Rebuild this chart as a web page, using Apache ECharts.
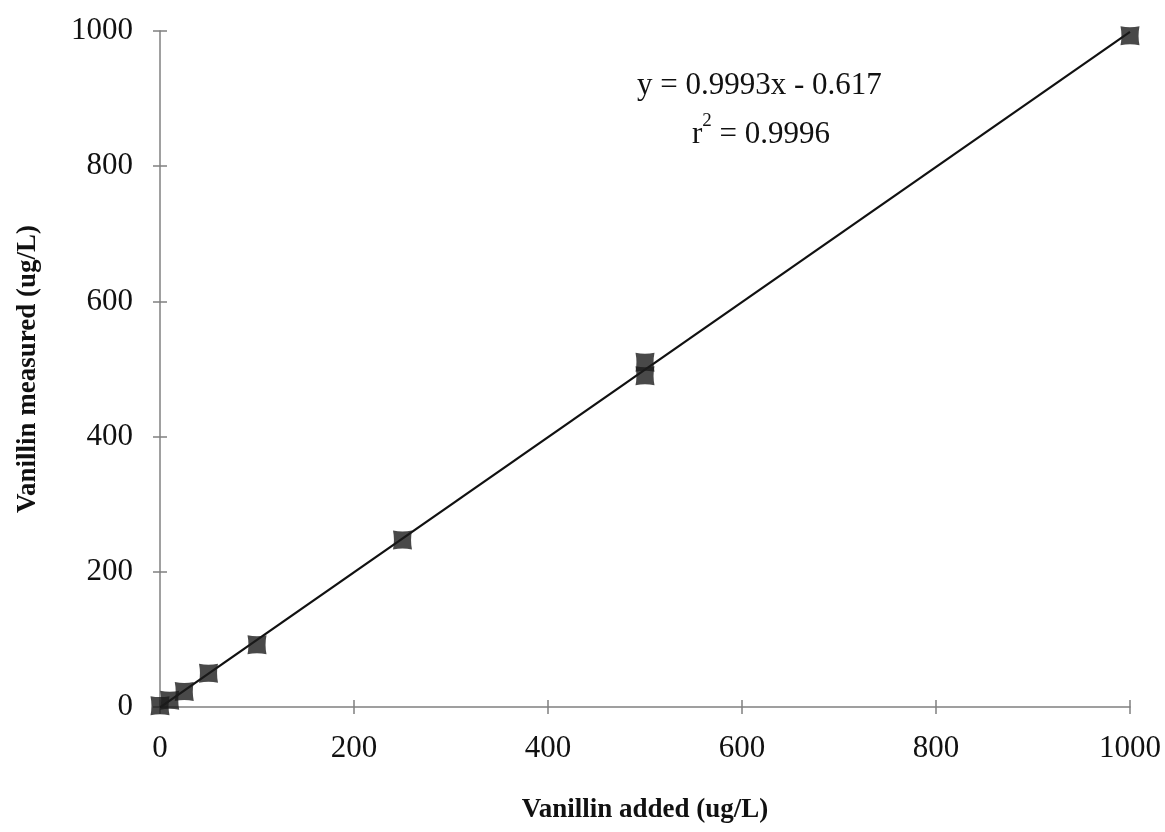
<!DOCTYPE html>
<html>
<head>
<meta charset="utf-8" />
<title>Vanillin recovery</title>
<script src="https://cdn.jsdelivr.net/npm/echarts@6/dist/echarts.min.js"></script>
<style>
  html, body { margin: 0; padding: 0; background: #fff; }
  #chart { width: 1165px; height: 832px; }
</style>
</head>
<body>
<div id="chart"></div>
<script>
// measured points
const addedVals = [0, 10, 25, 50, 100, 250, 500, 500, 1000];
const measuredVals = [2, 10, 23, 50, 92, 247, 490, 510, 993];
// fitted line end points (y = 0.9993x - 0.617)
const fitX = [0, 1000];
const fitY = [-0.6, 998.7];
const xTicks = [0, 200, 400, 600, 800, 1000];
const yTicks = [0, 200, 400, 600, 800, 1000];

const chart = echarts.init(document.getElementById('chart'));
const serif = '"Liberation Serif", "DejaVu Serif", serif';
const marker = 'path://M0,0 Q5,1 10,0 Q9,5 10,10 Q5,9 0,10 Q1,5 0,0 Z';

const points = addedVals.map(function (x, i) { return [x, measuredVals[i]]; });
const fitLine = fitX.map(function (x, i) { return [x, fitY[i]]; });

const axisLine = { show: true, lineStyle: { color: '#808080', width: 1.5 } };
const tickLine = { show: true, length: 7, lineStyle: { color: '#808080', width: 1.5 } };

chart.setOption({
  animation: false,
  grid: { left: 160, right: 35, top: 31, bottom: 125 },
  xAxis: [{
    type: 'value',
    min: 0, max: 1000, interval: 200,
    position: 'bottom',
    name: 'Vanillin added (ug/L)',
    nameLocation: 'middle',
    nameGap: 90,
    nameTextStyle: { fontFamily: serif, fontSize: 27, fontWeight: 'bold', color: '#111' },
    axisLine: axisLine,
    axisTick: tickLine,
    splitLine: { show: false },
    axisLabel: {
      fontFamily: serif, fontSize: 31, color: '#111', margin: 26,
      formatter: function (v) { return xTicks.indexOf(v) >= 0 ? String(v) : ''; }
    }
  }, {
    type: 'value',
    min: 0, max: 1000, interval: 200,
    position: 'bottom',
    axisLine: { show: false },
    axisTick: { show: true, inside: true, length: 7, lineStyle: { color: '#808080', width: 1.5 } },
    axisLabel: { show: false },
    splitLine: { show: false }
  }],
  yAxis: [{
    type: 'value',
    min: 0, max: 1000, interval: 200,
    name: 'Vanillin measured (ug/L)',
    nameLocation: 'middle',
    nameGap: 118,
    nameTextStyle: { fontFamily: serif, fontSize: 27, fontWeight: 'bold', color: '#111' },
    axisLine: axisLine,
    axisTick: tickLine,
    splitLine: { show: false },
    axisLabel: {
      fontFamily: serif, fontSize: 31, color: '#111', margin: 27,
      formatter: function (v) { return yTicks.indexOf(v) >= 0 ? String(v) : ''; }
    }
  }, {
    type: 'value',
    min: 0, max: 1000, interval: 200,
    position: 'left',
    axisLine: { show: false },
    axisTick: { show: true, inside: true, length: 7, lineStyle: { color: '#808080', width: 1.5 } },
    axisLabel: { show: false },
    splitLine: { show: false }
  }],
  graphic: [{
    type: 'text',
    left: 637, top: 70,
    style: {
      text: 'y = 0.9993x - 0.617',
      font: '31px ' + serif,
      fill: '#111'
    }
  }, {
    type: 'text',
    left: 692, top: 112,
    style: {
      text: '{b|r}{s|2}{b| = 0.9996}',
      fill: '#111',
      rich: {
        b: { fontFamily: serif, fontSize: 31, verticalAlign: 'bottom', lineHeight: 38 },
        s: { fontFamily: serif, fontSize: 19, verticalAlign: 'top', lineHeight: 38 }
      }
    }
  }],
  series: [{
    type: 'line',
    data: fitLine,
    symbol: 'none',
    lineStyle: { color: '#111', width: 2.2 },
    silent: true,
    z: 2
  }, {
    type: 'scatter',
    data: points,
    symbol: marker,
    symbolSize: 19,
    itemStyle: { color: '#1c1c1c' },
    z: 3
  }]
});
</script>
</body>
</html>
